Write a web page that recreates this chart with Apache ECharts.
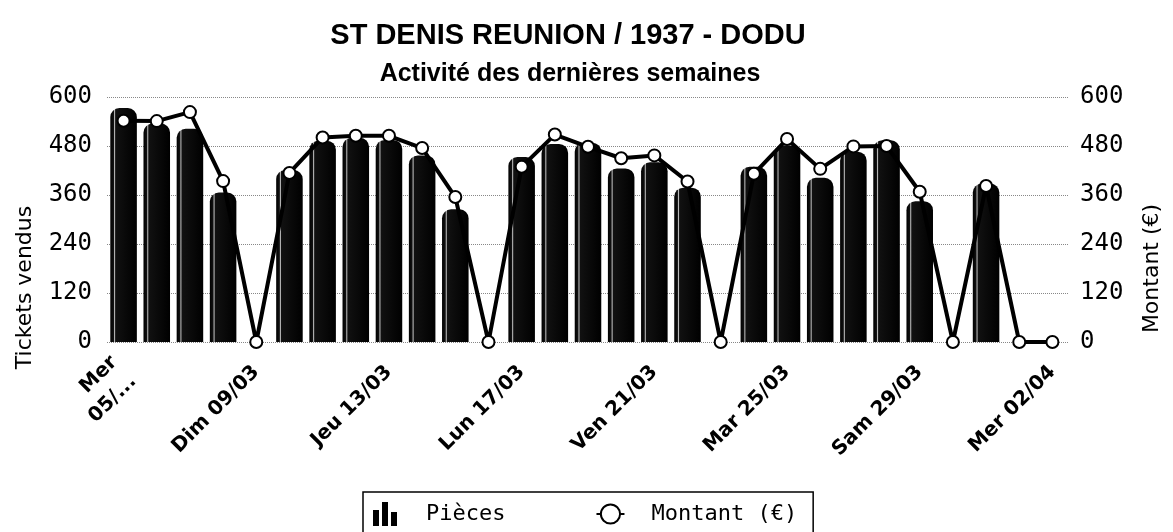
<!DOCTYPE html>
<html>
<head>
<meta charset="utf-8">
<script src="https://cdn.jsdelivr.net/npm/echarts@6/dist/echarts.min.js"></script>
<style>
    html, body { margin: 0; padding: 0; background: #fff; }
    #main { width: 1173px; height: 532px; }
</style>
</head>
<body>
<div id="main"></div>
<script>
// jours du 05/03 au 02/04
var jours = ['Mer 05/03', 'Jeu 06/03', 'Ven 07/03', 'Sam 08/03', 'Dim 09/03', 'Lun 10/03', 'Mar 11/03',
    'Mer 12/03', 'Jeu 13/03', 'Ven 14/03', 'Sam 15/03', 'Dim 16/03', 'Lun 17/03', 'Mar 18/03',
    'Mer 19/03', 'Jeu 20/03', 'Ven 21/03', 'Sam 22/03', 'Dim 23/03', 'Lun 24/03', 'Mar 25/03',
    'Mer 26/03', 'Jeu 27/03', 'Ven 28/03', 'Sam 29/03', 'Dim 30/03', 'Lun 31/03', 'Mar 01/04', 'Mer 02/04'];
var pieces = [573, 535, 522, 366, 0, 421, 493, 500, 495, 457, 325, 0, 453, 485, 488, 425, 440, 378, 0,
    429, 481, 402, 466, 494, 345, 0, 388, 0, 0];
var montant = [542, 541, 563, 394, 0, 414, 501, 505, 505, 475, 355, 0, 429, 508, 478, 450, 457, 393, 0,
    412, 497, 424, 479, 480, 368, 0, 382, 0, 0];
var graduations = [0, 120, 240, 360, 480, 600];

var dom = document.getElementById("main");
var myChart = echarts.init(dom);

// couleur des barres : noir avec un reflet clair
var barColor = new echarts.graphic.LinearGradient(0, 0, 1, 0, [
    {offset: 0, color: '#000'},
    {offset: 0.12, color: '#111'},
    {offset: 0.16, color: '#bbb'},
    {offset: 0.2, color: '#111'},
    {offset: 1, color: '#000'}
]);

var option = {
    backgroundColor: '#fff',
    animation: false,
    title: [{
        text: 'ST DENIS REUNION / 1937 - DODU',
        left: 563,
        textAlign: 'center',
        top: 16,
        textStyle: {fontFamily: 'Liberation Sans', fontWeight: 'bold', fontSize: 29, color: '#000'}
    }, {
        text: 'Activité des dernières semaines',
        left: 565,
        textAlign: 'center',
        top: 57,
        textStyle: {fontFamily: 'Liberation Sans', fontWeight: 'bold', fontSize: 25, color: '#000'}
    }],
    legend: {
        left: 363,
        top: 492,
        itemGap: 90,
        padding: [10, 16, 14, 10],
        borderColor: '#000',
        borderWidth: 1.5,
        itemWidth: 28,
        itemHeight: 24,
        textStyle: {fontFamily: 'DejaVu Sans Mono', fontSize: 22, color: '#000', padding: [0, 0, 0, 22]},
        data: [
            {name: 'Pièces', icon: 'path://M0,8H6V24H0Z M9,0H15V24H9Z M18,10H24V24H18Z', itemStyle: {color: '#000'}},
            {name: 'Montant (€)'}
        ]
    },
    grid: {
        left: 107,
        right: 104,
        top: 97,
        bottom: 190
    },
    xAxis: {
        type: 'category',
        data: jours,
        axisLine: {show: false},
        axisTick: {show: false},
        axisLabel: {
            interval: 3,
            rotate: 45,
            margin: 27,
            fontFamily: 'DejaVu Sans',
            fontWeight: 'bold',
            fontSize: 20,
            lineHeight: 27,
            color: '#000',
            formatter: function (v, i) {
                return i === 0 ? 'Mer\n05/...' : v;
            }
        }
    },
    yAxis: [{
        type: 'value',
        name: 'Tickets vendus',
        nameLocation: 'middle',
        nameRotate: 90,
        nameGap: 71,
        nameTextStyle: {fontFamily: 'DejaVu Sans', fontSize: 22, color: '#000', padding: [0, 136, 0, 0]},
        min: graduations[0],
        max: graduations[graduations.length - 1],
        interval: 120,
        axisLine: {show: false},
        axisTick: {show: false},
        axisLabel: {margin: 15, fontFamily: 'DejaVu Sans Mono', fontSize: 24, color: '#000'},
        splitLine: {lineStyle: {color: '#888', type: 'dotted', width: 1}}
    }, {
        type: 'value',
        name: 'Montant (€)',
        nameLocation: 'middle',
        nameRotate: 90,
        nameGap: 72,
        nameTextStyle: {fontFamily: 'DejaVu Sans', fontSize: 22, color: '#000', padding: [0, 98, 0, 0]},
        min: graduations[0],
        max: graduations[graduations.length - 1],
        interval: 120,
        axisLine: {show: false},
        axisTick: {show: false},
        axisLabel: {margin: 11, fontFamily: 'DejaVu Sans Mono', fontSize: 24, color: '#000'},
        splitLine: {show: false}
    }],
    series: [{
        name: 'Pièces',
        type: 'bar',
        yAxisIndex: 0,
        barWidth: '80%',
        itemStyle: {color: barColor, borderRadius: [9, 9, 0, 0]},
        data: pieces
    }, {
        name: 'Montant (€)',
        type: 'line',
        yAxisIndex: 1,
        z: 5,
        symbol: 'circle',
        symbolSize: 12,
        lineStyle: {color: '#000', width: 4},
        itemStyle: {color: '#fff', borderColor: '#000', borderWidth: 2},
        data: montant
    }]
};
if (option && typeof option === "object") {
    myChart.setOption(option, true);
}
</script>
</body>
</html>
